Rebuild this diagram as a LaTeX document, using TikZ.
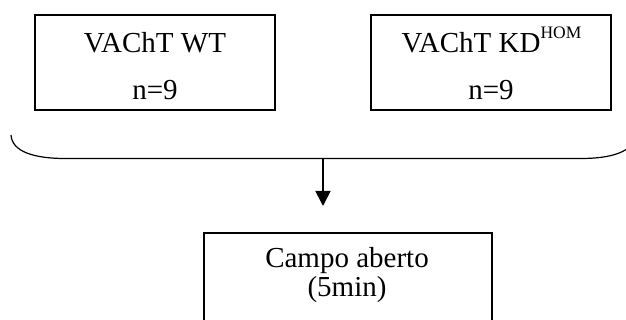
\documentclass[tikz,border=0pt]{standalone}
\usepackage{fontspec}
\setmainfont{Liberation Serif}
\usetikzlibrary{arrows.meta}
\begin{document}
\begin{tikzpicture}[x=1pt, y=-1pt,
  groupbox/.style={draw, line width=1.6pt, minimum width=240pt, minimum height=95pt, inner sep=0pt},
  txt/.style={anchor=base, inner sep=0pt, font=\fontsize{29}{34}\selectfont},
  bracket/.style={line width=1.2pt},
  flow/.style={line width=1.6pt, -{Triangle[length=15pt,width=15pt]}}]
  \clip (0,0) rectangle (626,320);

  % the two genotype groups
  \node[groupbox] (wt) at (155,62.5) {};
  \node[txt] (wtname) at (155,53) {VAChT WT};
  \node[txt] (wtn) at (155,100) {n=9};

  \node[groupbox] (kd) at (491,62.5) {};
  \node[txt] (kdname) at (491.5,53) {VAChT KD\raisebox{14pt}{\fontsize{17.5}{20}\selectfont HOM}};
  \node[txt] (kdn) at (491,100) {n=9};

  % bracket joining both groups
  \coordinate (bl) at (11,135);
  \coordinate (br) at (635,135);
  \coordinate (bm) at (323,158.5);
  \draw[bracket] (bl) .. controls (12,152) and (35,158.5) .. (65,158.5)
    -- (581,158.5) .. controls (611,158.5) and (634,152) .. (br);

  % arrow to the test
  \coordinate (tip) at (323,206);
  \draw[flow] (bm) -- (tip);

  % open field test
  \node[draw, line width=1.6pt, minimum width=288pt, minimum height=110pt,
        inner sep=0pt, anchor=north west] (of) at (203,232) {};
  \node[txt] (ofa) at (347,268) {Campo aberto};
  \node[txt] (ofb) at (347,296) {(5min)};
\end{tikzpicture}
\end{document}
